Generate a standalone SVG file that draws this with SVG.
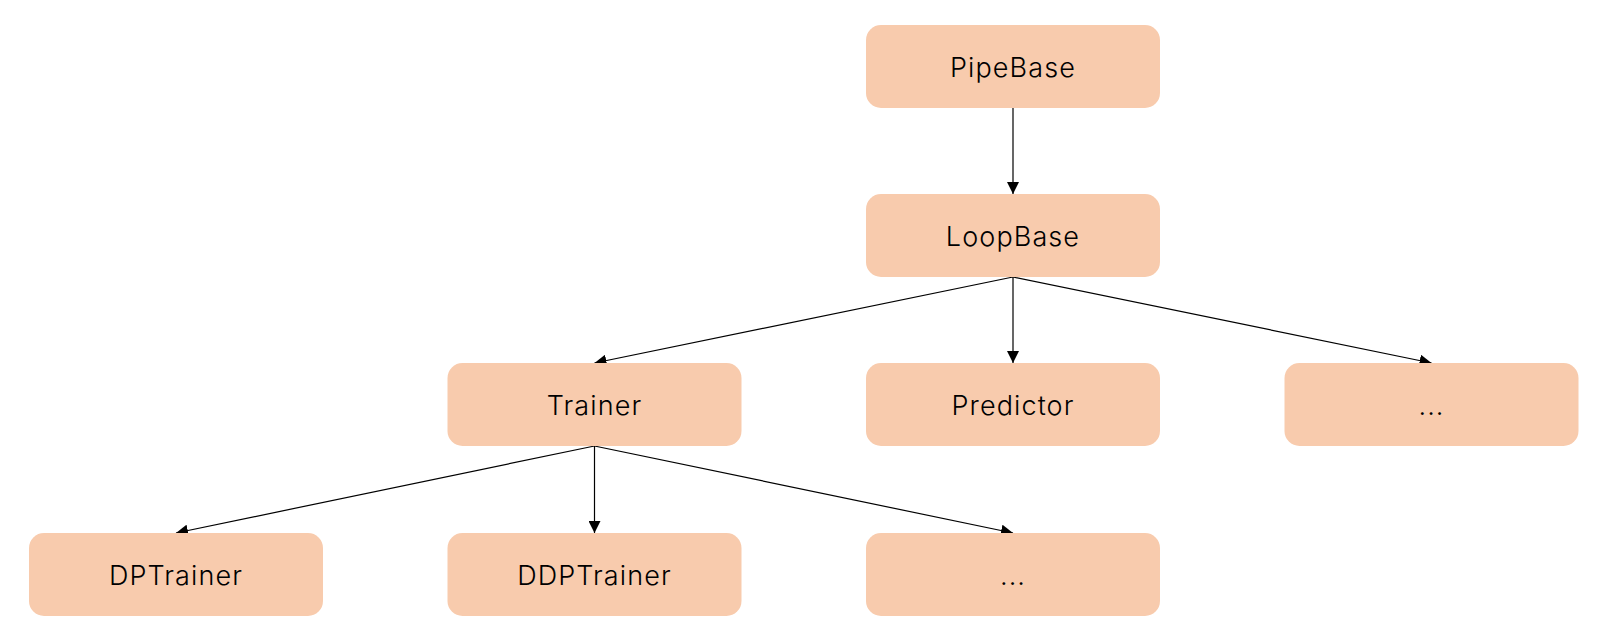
<svg xmlns="http://www.w3.org/2000/svg" width="1613" height="641" viewBox="0 0 1613 641">
  <style>
    .box { fill: #F8CBAD; }
    .lbl { font-family: Inter, "Noto Sans", sans-serif; font-weight: 300; font-size: 27px; letter-spacing: 1.1px; fill: #000; text-anchor: middle; dominant-baseline: central; }
    .edge { stroke: #000; stroke-width: 1.2; fill: none; marker-end: url(#arrow); }
  </style>
  <defs>
    <marker id="arrow" markerUnits="userSpaceOnUse" markerWidth="14" markerHeight="12" refX="12" refY="6" orient="auto">
      <path d="M0,0 L12,6 L0,12 Z" fill="#000"/>
    </marker>
  </defs>
  <rect width="1613" height="641" fill="#fff"/>
  <g id="connectors">
    <line class="edge" x1="1013" y1="108" x2="1013" y2="194"/>
    <line class="edge" x1="1013" y1="277" x2="594.5" y2="363"/>
    <line class="edge" x1="1013" y1="277" x2="1013" y2="363"/>
    <line class="edge" x1="1013" y1="277" x2="1431.5" y2="363"/>
    <line class="edge" x1="594.5" y1="446" x2="176" y2="533"/>
    <line class="edge" x1="594.5" y1="446" x2="594.5" y2="533"/>
    <line class="edge" x1="594.5" y1="446" x2="1013" y2="533"/>
  </g>
  <g id="node-pipebase">
    <rect class="box" x="866" y="25" width="294" height="83" rx="15"/>
    <text class="lbl" x="1013" y="67">PipeBase</text>
  </g>
  <g id="node-loopbase">
    <rect class="box" x="866" y="194" width="294" height="83" rx="15"/>
    <text class="lbl" x="1013" y="236">LoopBase</text>
  </g>
  <g id="node-trainer">
    <rect class="box" x="447.5" y="363" width="294" height="83" rx="15"/>
    <text class="lbl" x="594.5" y="405">Trainer</text>
  </g>
  <g id="node-predictor">
    <rect class="box" x="866" y="363" width="294" height="83" rx="15"/>
    <text class="lbl" x="1013" y="405">Predictor</text>
  </g>
  <g id="node-more1">
    <rect class="box" x="1284.5" y="363" width="294" height="83" rx="15"/>
    <text class="lbl" x="1431.5" y="405">...</text>
  </g>
  <g id="node-dptrainer">
    <rect class="box" x="29" y="533" width="294" height="83" rx="15"/>
    <text class="lbl" x="176" y="575">DPTrainer</text>
  </g>
  <g id="node-ddptrainer">
    <rect class="box" x="447.5" y="533" width="294" height="83" rx="15"/>
    <text class="lbl" x="594.5" y="575">DDPTrainer</text>
  </g>
  <g id="node-more2">
    <rect class="box" x="866" y="533" width="294" height="83" rx="15"/>
    <text class="lbl" x="1013" y="575">...</text>
  </g>
</svg>
